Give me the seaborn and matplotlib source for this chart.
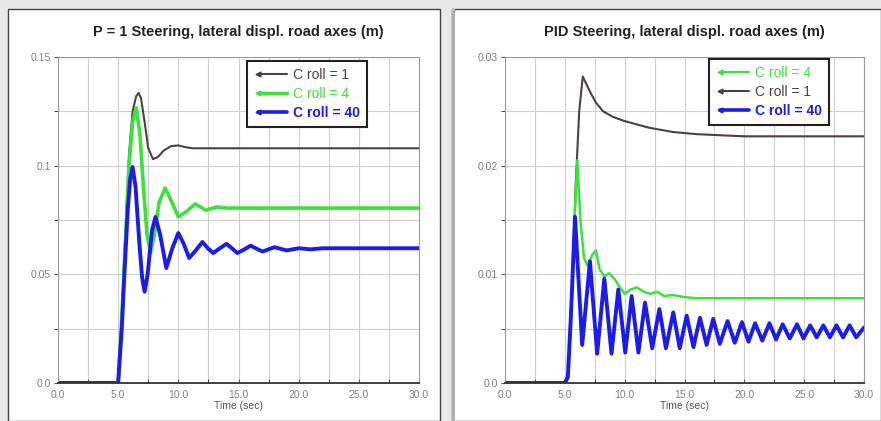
import pandas as pd
import matplotlib
matplotlib.use('Agg')
import matplotlib.pyplot as plt
import seaborn as sns
from matplotlib.patches import Rectangle
from matplotlib.lines import Line2D
from matplotlib.ticker import MultipleLocator, FixedLocator, FixedFormatter

# ---- data ----
# left panel: P = 1 steering
p_t_c1 = [0, 5.0, 5.3, 5.6, 5.9, 6.2, 6.5, 6.7, 6.9, 7.2, 7.5, 7.9, 8.3, 8.8, 9.4, 10.0, 10.6, 11.2, 12.0, 30.0]
p_v_c1 = [0, 0, 0.03, 0.07, 0.105, 0.125, 0.132, 0.1335, 0.131, 0.12, 0.108, 0.103, 0.104, 0.107, 0.109,
          0.1093, 0.1085, 0.108, 0.108, 0.108]
p_t_c4 = [0, 5.0, 5.3, 5.6, 5.9, 6.2, 6.5, 6.8, 7.1, 7.4, 7.7, 8.0, 8.4, 8.9, 9.4, 10.0, 10.7, 11.4, 12.3,
          13.2, 14.0, 30.0]
p_v_c4 = [0, 0, 0.03, 0.065, 0.1, 0.12, 0.1266, 0.115, 0.09, 0.068, 0.06, 0.068, 0.083, 0.0897, 0.084,
          0.0764, 0.079, 0.0824, 0.0795, 0.081, 0.0805, 0.0805]
p_t_c40 = [0, 5.0, 5.3, 5.5, 5.8, 6.0, 6.2, 6.45, 6.75, 7.0, 7.2, 7.45, 7.8, 8.1, 8.5, 9.0, 9.5, 10.0, 10.45,
           10.9, 11.45, 12.0, 12.45, 12.9, 13.45, 14.0, 14.45, 14.9, 15.5, 16.0, 16.5, 17.0, 18.0, 19.0,
           20.0, 21.0, 22.0, 30.0]
p_v_c40 = [0, 0, 0.025, 0.048, 0.08, 0.094, 0.0994, 0.09, 0.065, 0.048, 0.042, 0.05, 0.07, 0.0764, 0.068,
           0.0529, 0.062, 0.069, 0.064, 0.0575, 0.061, 0.0649, 0.062, 0.0598, 0.062, 0.064, 0.062, 0.0598,
           0.0615, 0.0632, 0.0618, 0.0605, 0.0625, 0.061, 0.062, 0.0615, 0.062, 0.062]

# right panel: PID steering
pid_t_c1 = [0, 5.0, 5.3, 5.6, 5.9, 6.2, 6.5, 6.8, 7.2, 7.6, 8.2, 9.0, 10.0, 11.0, 12.0, 13.0, 14.0, 16.0,
            18.0, 20.0, 30.0]
pid_v_c1 = [0, 0, 0.001, 0.008, 0.018, 0.025, 0.0282, 0.0275, 0.0266, 0.0258, 0.025, 0.0245, 0.0241,
            0.0238, 0.0235, 0.0233, 0.0231, 0.0229, 0.0228, 0.0227, 0.0227]
pid_t_c4 = [0, 5.0, 5.3, 5.6, 5.85, 6.05, 6.3, 6.6, 6.9, 7.3, 7.6, 7.9, 8.3, 8.7, 9.2, 9.6, 10.0, 10.5,
            11.0, 11.6, 12.1, 12.7, 13.3, 14.0, 15.0, 16.0, 30.0]
pid_v_c4 = [0, 0, 0.001, 0.008, 0.016, 0.0205, 0.015, 0.0115, 0.0108, 0.0118, 0.0122, 0.0105, 0.0098,
            0.0101, 0.0095, 0.0088, 0.0082, 0.0086, 0.0088, 0.0084, 0.0082, 0.0084, 0.008, 0.0081, 0.0079,
            0.0078, 0.0078]
pid_t_c40 = [0, 5.0, 5.25, 5.5, 5.85, 6.45, 7.1, 7.7, 8.3, 8.9, 9.47, 10.05, 10.58, 11.15, 11.7, 12.3,
             12.9, 13.45, 14.06, 14.6, 15.18, 15.75, 16.29, 16.85, 17.4, 17.95, 18.6, 19.2, 19.8, 20.35,
             20.9, 21.5, 22.1, 22.65, 23.2, 23.8, 24.4, 24.95, 25.5, 26.05, 26.6, 27.15, 27.7, 28.25,
             28.8, 29.35, 30.0]
pid_v_c40 = [0, 0, 0.0005, 0.006, 0.0153, 0.0035, 0.0112, 0.0027, 0.0096, 0.0027, 0.0086, 0.0028, 0.008,
             0.0028, 0.0074, 0.0032, 0.0068, 0.0032, 0.0065, 0.0032, 0.0062, 0.0033, 0.006, 0.0035, 0.0059,
             0.0036, 0.0057, 0.0037, 0.0056, 0.0038, 0.0055, 0.0039, 0.0055, 0.004, 0.0054, 0.0041, 0.0054,
             0.0041, 0.0053, 0.0042, 0.0053, 0.0042, 0.0053, 0.0042, 0.0053, 0.0042, 0.0051]

x_ticks = [0, 5, 10, 15, 20, 25, 30]
x_labels = ['0.0', '5.0', '10.0', '15.0', '20.0', '25.0', '30.0']
p_y_ticks = [0, 0.05, 0.1, 0.15]
p_y_labels = ['0.0', '0.05', '0.1', '0.15']
pid_y_ticks = [0, 0.01, 0.02, 0.03]
pid_y_labels = ['0.0', '0.01', '0.02', '0.03']

sns.set_style('whitegrid')
plt.rcParams['font.family'] = ['Liberation Sans', 'DejaVu Sans']

colC1 = '#4e4040'
colC4 = '#3ee03e'
colC40 = '#1c1ce8'

fig = plt.figure(figsize=(8.81, 4.21), dpi=100, facecolor='#e8e8e8')
W, H = 881.0, 421.0

# white panels behind the axes
for x0, x1 in [(8, 440), (452, 881)]:
    fig.patches.append(Rectangle((x0 / W, 0), (x1 - x0) / W, (H - 9) / H, transform=fig.transFigure,
                                 facecolor='white', edgecolor='#444444', lw=1.0, zorder=-5))
fig.patches.append(Rectangle((452 / W, 0), 3 / W, (H - 9) / H, transform=fig.transFigure,
                             facecolor='#b0b0b0', edgecolor='none', zorder=-4))


def make_axes(left_px, right_px, ymax, yminor, yticks, ylabels, title, series, leg_order, leg_anchor):
    ax = fig.add_axes([left_px / W, (H - 383) / H, (right_px - left_px) / W, (383 - 57) / H])
    ax.set_facecolor('white')
    for t, v, col, lw in series:
        df = pd.DataFrame({'Time': t, 'disp': v})
        sns.lineplot(data=df, x='Time', y='disp', ax=ax, color=col, linewidth=lw, estimator=None,
                     sort=False)
    ax.set_xlim(0, 30)
    ax.set_ylim(0, ymax)
    ax.xaxis.set_major_locator(FixedLocator(x_ticks))
    ax.xaxis.set_major_formatter(FixedFormatter(x_labels))
    ax.xaxis.set_minor_locator(MultipleLocator(2.5))
    ax.yaxis.set_major_locator(FixedLocator(yticks))
    ax.yaxis.set_major_formatter(FixedFormatter(ylabels))
    ax.yaxis.set_minor_locator(MultipleLocator(yminor))
    ax.grid(True, which='both', color='#cfcfcf', lw=0.8)
    ax.tick_params(axis='both', which='major', labelsize=7.5, labelcolor='#808080', length=3,
                   color='#555555')
    ax.tick_params(axis='x', which='both', direction='in', length=3, bottom=True, pad=5)
    ax.tick_params(axis='y', which='both', direction='out', length=3, left=True, pad=2)
    for s in ['top', 'right', 'left']:
        ax.spines[s].set_color('#9a9a9a')
        ax.spines[s].set_linewidth(0.8)
    ax.spines['bottom'].set_color('#333333')
    ax.spines['bottom'].set_linewidth(1.3)
    ax.set_xlabel('Time (sec)', fontsize=7.5, color='#555555', labelpad=1)
    ax.set_ylabel('')
    cx = (left_px + right_px) / 2 / W
    fig.text(cx, 1 - 32 / H, title, ha='center', va='center', fontsize=10.5, fontweight='bold',
             color='#222222')
    handles = []
    for lab, col, lw in leg_order:
        handles.append(Line2D([0], [0], color=col, lw=lw, marker='<', markersize=3.5, label=lab))
    leg = ax.legend(handles=handles, loc='upper left', bbox_to_anchor=leg_anchor, borderaxespad=0,
                    fontsize=10, frameon=True, fancybox=False, framealpha=1, edgecolor='#222222',
                    handlelength=2.7, handletextpad=0.1, labelspacing=0.35, numpoints=2,
                    borderpad=0.5)
    leg.get_frame().set_linewidth(1.5)
    for h in leg.legend_handles:
        h.set_markevery([0])
    for txt, (lab, col, lw) in zip(leg.get_texts(), leg_order):
        txt.set_color(col)
        if lab.endswith('40'):
            txt.set_fontweight('bold')
    return ax


make_axes(58, 419, 0.15, 0.025, p_y_ticks, p_y_labels,
          'P = 1 Steering, lateral displ. road axes (m)',
          [(p_t_c1, p_v_c1, colC1, 1.5),
           (p_t_c4, p_v_c4, colC4, 2.6),
           (p_t_c40, p_v_c40, colC40, 2.8)],
          [('C roll = 1', colC1, 1.5), ('C roll = 4', colC4, 2.4), ('C roll = 40', colC40, 2.6)],
          (0.5235, 0.988))

make_axes(505, 864, 0.03, 0.005, pid_y_ticks, pid_y_labels,
          'PID Steering, lateral displ. road axes (m)',
          [(pid_t_c1, pid_v_c1, colC1, 1.5),
           (pid_t_c4, pid_v_c4, colC4, 1.8),
           (pid_t_c40, pid_v_c40, colC40, 2.8)],
          [('C roll = 4', colC4, 1.6), ('C roll = 1', colC1, 1.5), ('C roll = 40', colC40, 2.6)],
          (0.568, 0.994))

fig.savefig('out.png', dpi=100, facecolor=fig.get_facecolor())
